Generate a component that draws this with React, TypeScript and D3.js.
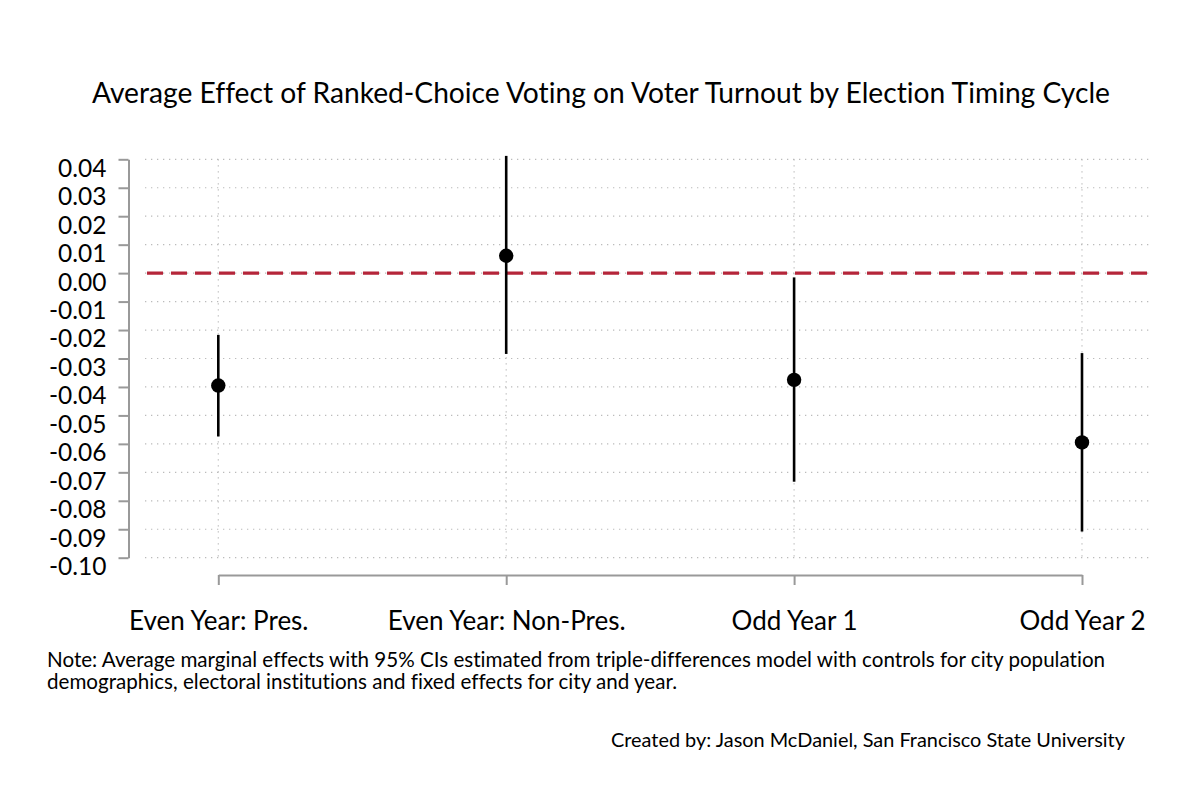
import * as d3 from 'd3';
import { useEffect, useRef } from 'react';

const categories = ['Even Year: Pres.', 'Even Year: Non-Pres.', 'Odd Year 1', 'Odd Year 2'];
const estimates = [-0.0395, 0.0061, -0.0375, -0.0595];
const ciLower = [-0.0574, -0.0284, -0.0733, -0.0908];
const ciUpper = [-0.0217, 0.0412, -0.0015, -0.0281];
const yTicks = [0.04, 0.03, 0.02, 0.01, 0.0, -0.01, -0.02, -0.03, -0.04, -0.05, -0.06, -0.07, -0.08, -0.09, -0.1];

const titleText = 'Average Effect of Ranked-Choice Voting on Voter Turnout by Election Timing Cycle';
const noteLines = [
  'Note: Average marginal effects with 95% CIs estimated from triple-differences model with controls for city population',
  'demographics, electoral institutions and fixed effects for city and year.',
];
const creditText = 'Created by: Jason McDaniel, San Francisco State University';

const FONT = 'Lato, "DejaVu Sans", sans-serif';

function App() {
  const chartRef = useRef<SVGSVGElement>(null);

  useEffect(() => {
    document.body.style.margin = '0';
    const svg = d3.select(chartRef.current);
    svg.selectAll('*').remove();

    const y = d3.scaleLinear().domain([-0.1, 0.04]).range([557.7, 159.3]);
    const x = d3.scalePoint().domain(categories).range([218.3, 1082]);
    const data = categories.map((c, i) => ({ c, est: estimates[i], lo: ciLower[i], hi: ciUpper[i] }));

    // title
    svg
      .append('text')
      .attr('x', 601)
      .attr('y', 103)
      .attr('text-anchor', 'middle')
      .style('font-size', '28.2px')
      .attr('fill', '#000')
      .text(titleText);

    // horizontal dotted grid
    svg
      .append('g')
      .selectAll('line')
      .data(yTicks)
      .enter()
      .append('line')
      .attr('x1', 145)
      .attr('x2', 1152)
      .attr('y1', (d) => y(d))
      .attr('y2', (d) => y(d))
      .attr('stroke', '#bbb')
      .attr('stroke-width', 1.2)
      .attr('stroke-dasharray', '1.3,4.7');

    // vertical dotted grid
    svg
      .append('g')
      .selectAll('line')
      .data(categories)
      .enter()
      .append('line')
      .attr('x1', (d) => x(d)!)
      .attr('x2', (d) => x(d)!)
      .attr('y1', y(0.04))
      .attr('y2', y(-0.1))
      .attr('stroke', '#bbb')
      .attr('stroke-width', 1.2)
      .attr('stroke-dasharray', '1.3,4.7');

    // y axis (labels hang below their ticks, as in the original)
    const yAxis = svg
      .append('g')
      .attr('transform', 'translate(128.5,0)')
      .call(d3.axisLeft(y).tickValues(yTicks).tickSize(10).tickSizeOuter(0).tickPadding(12).tickFormat((d) => d3.format('.2f')(d as number)));
    yAxis.select('.domain').attr('stroke', '#999').attr('stroke-width', 2);
    yAxis.selectAll('.tick line').attr('stroke', '#999').attr('stroke-width', 2);
    yAxis
      .selectAll('.tick text')
      .style('font-family', FONT)
      .style('font-size', '24.5px')
      .attr('fill', '#000')
      .attr('dy', '0.69em')
      .text((d) => d3.format('.2f')(d as number).replace('−', '-'));

    // x axis
    const xAxis = svg
      .append('g')
      .attr('transform', 'translate(0,575)')
      .call(d3.axisBottom(x).tickSize(10).tickSizeOuter(0).tickPadding(27));
    xAxis.select('.domain').attr('stroke', '#999').attr('stroke-width', 2);
    xAxis.selectAll('.tick line').attr('stroke', '#999').attr('stroke-width', 2);
    xAxis
      .selectAll('.tick text')
      .style('font-family', FONT)
      .style('font-size', '26px')
      .attr('fill', '#000');

    // zero reference line
    svg
      .append('line')
      .attr('x1', 147)
      .attr('x2', 1148)
      .attr('y1', y(0))
      .attr('y2', y(0))
      .attr('stroke', '#b5263a')
      .attr('stroke-width', 3.2)
      .attr('stroke-dasharray', '16,8');

    // confidence intervals
    svg
      .append('g')
      .selectAll('line')
      .data(data)
      .enter()
      .append('line')
      .attr('x1', (d) => x(d.c)!)
      .attr('x2', (d) => x(d.c)!)
      .attr('y1', (d) => y(d.hi))
      .attr('y2', (d) => y(d.lo))
      .attr('stroke', '#000')
      .attr('stroke-width', 2.6);

    // point estimates
    svg
      .append('g')
      .selectAll('circle')
      .data(data)
      .enter()
      .append('circle')
      .attr('cx', (d) => x(d.c)!)
      .attr('cy', (d) => y(d.est))
      .attr('r', 7.2)
      .attr('fill', '#000');

    // note
    svg
      .append('g')
      .selectAll('text')
      .data(noteLines)
      .enter()
      .append('text')
      .attr('x', 47)
      .attr('y', (_d, i) => 667 + i * 22)
      .style('font-size', '20.6px')
      .attr('fill', '#000')
      .text((d) => d);

    // credit
    svg
      .append('text')
      .attr('x', 1125)
      .attr('y', 747)
      .attr('text-anchor', 'end')
      .style('font-size', '19.9px')
      .attr('fill', '#000')
      .text(creditText);
  }, []);

  return (
    <svg
      ref={chartRef}
      width={1200}
      height={799}
      style={{ display: 'block', background: '#fff', fontFamily: FONT, fontVariantLigatures: 'none' }}
    />
  );
}

export default App;
